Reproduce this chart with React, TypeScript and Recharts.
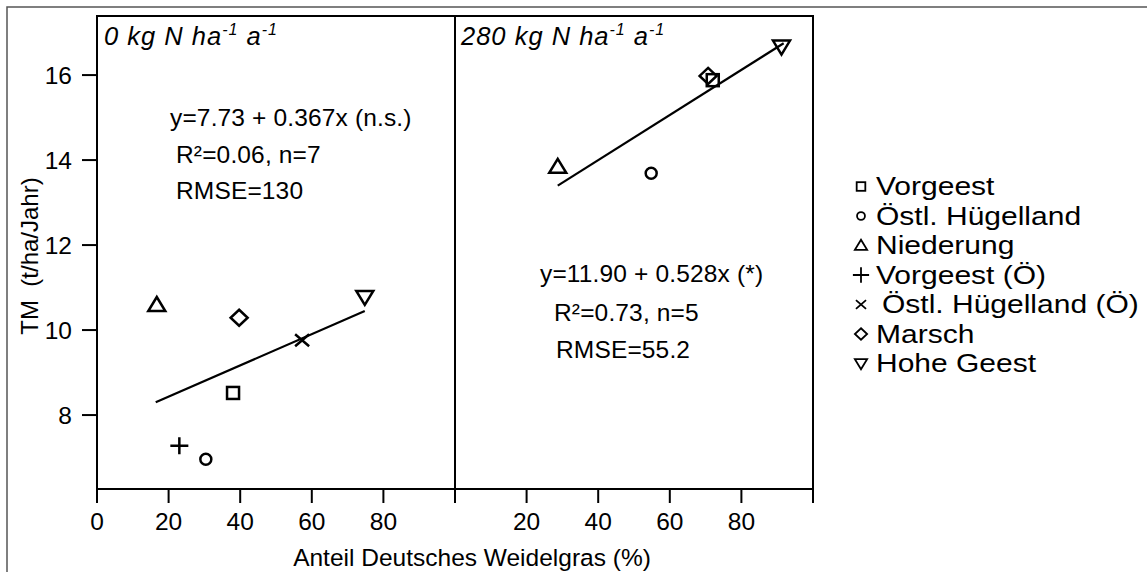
import React from 'react';
import { ScatterChart, Scatter, XAxis, YAxis, ReferenceArea } from 'recharts';

const font = "'Liberation Sans', Arial, sans-serif";

// Regionen und Symbole (gleiche Reihenfolge wie in der Legende)
const regions = ['Vorgeest', 'Östl. Hügelland', 'Niederung', 'Vorgeest (Ö)', 'Östl. Hügelland (Ö)', 'Marsch', 'Hohe Geest'];
const markers = ['square', 'circle', 'triangle', 'plus', 'cross', 'diamond', 'triangleDown'];

// 0 kg N ha-1 a-1
const grass0 = [38.0, 30.4, 16.7, 23.0, 57.3, 39.7, 74.8];
const yield0 = [8.52, 6.96, 10.59, 7.28, 9.76, 10.29, 10.78];
// 280 kg N ha-1 a-1 (keine Ö-Standorte)
const grass280 = [72.0, 54.8, 28.7, null, null, 70.7, 91.2];
const yield280 = [15.88, 13.69, 13.84, null, null, 15.98, 16.67];

const fit0 = [{ x: 16.4, y: 8.30 }, { x: 74.8, y: 10.45 }];
const fit280 = [{ x: 28.7, y: 13.40 }, { x: 91.8, y: 16.75 }];

const xTicks = [0, 20, 40, 60, 80, 100];
const yTicks = [8, 10, 12, 14, 16];
const yDomain: [number, number] = [6.26, 17.39];

const Marker = ({ cx, cy, kind, s = 1, sw = 2.5 }: any) => {
    const p = { fill: 'none', stroke: '#000', strokeWidth: sw };
    switch (kind) {
        case 'square':
            return <rect x={cx - 6 * s} y={cy - 6 * s} width={12 * s} height={12 * s} {...p} />;
        case 'circle':
            return <circle cx={cx} cy={cy} r={5.5 * s} {...p} />;
        case 'triangle':
            return <path d={`M${cx},${cy - 8 * s}L${cx + 8.5 * s},${cy + 6 * s}L${cx - 8.5 * s},${cy + 6 * s}Z`} {...p} />;
        case 'plus':
            return <path d={`M${cx - 9 * s},${cy}H${cx + 9 * s}M${cx},${cy - 8.5 * s}V${cy + 8.5 * s}`} {...p} />;
        case 'cross':
            return <path d={`M${cx - 7 * s},${cy - 6 * s}L${cx + 7 * s},${cy + 6 * s}M${cx + 7 * s},${cy - 6 * s}L${cx - 7 * s},${cy + 6 * s}`} {...p} />;
        case 'diamond':
            return <path d={`M${cx},${cy - 8 * s}L${cx + 8.5 * s},${cy}L${cx},${cy + 8 * s}L${cx - 8.5 * s},${cy}Z`} {...p} />;
        case 'triangleDown':
            return <path d={`M${cx - 8.5 * s},${cy - 6 * s}L${cx + 8.5 * s},${cy - 6 * s}L${cx},${cy + 8 * s}Z`} {...p} />;
        default:
            return <g />;
    }
};

const axisStroke = { stroke: '#000', strokeWidth: 2 };
const tickStyle = { fill: '#000', fontSize: 24.5, fontFamily: font };

const Panel = ({ xs, ys, fit, showY, hideLabels, width, margin }: any) => (
    <ScatterChart width={width} height={572} margin={margin}>
        <XAxis
            dataKey="x" type="number" domain={[0, 100]} ticks={xTicks} height={83}
            tickSize={14} tickMargin={10} axisLine={axisStroke} tickLine={axisStroke} tick={tickStyle}
            tickFormatter={(v: number) => (hideLabels.includes(v) ? '' : String(v))}
            allowDataOverflow
        />
        <YAxis
            dataKey="y" type="number" domain={yDomain} ticks={yTicks} width={97} hide={!showY}
            tickSize={15} tickMargin={10} axisLine={axisStroke} tickLine={axisStroke} tick={tickStyle}
            allowDataOverflow
        />
        <ReferenceArea x1={0} x2={100} y1={yDomain[0]} y2={yDomain[1]} fill="none" stroke="#000" strokeWidth={2} />
        <Scatter data={fit} line={{ stroke: '#000', strokeWidth: 2.2 }} shape={() => <g />} isAnimationActive={false} />
        {regions.map((name, i) => xs[i] == null ? null : (
            <Scatter
                key={name}
                name={name}
                data={[{ x: xs[i], y: ys[i] }]}
                shape={(pr: any) => <Marker cx={pr.cx} cy={pr.cy} kind={markers[i]} />}
                isAnimationActive={false}
            />
        ))}
    </ScatterChart>
);

const Sup = ({ children }: any) => <tspan dy={-10} fontSize={16}>{children}</tspan>;

export default function App() {
    const txt = { fontFamily: font, fill: '#000' };
    const note = { ...txt, fontSize: 24.5, letterSpacing: 0.15 };
    return (
        <div style={{ position: 'absolute', left: 0, top: 0, width: 1147, height: 572, background: '#fff', fontFamily: font }}>
            <div style={{ position: 'absolute', left: 0, top: 0 }}>
                <Panel xs={grass0} ys={yield0} fit={fit0} showY hideLabels={[100]} width={460}
                    margin={{ top: 16, right: 5, bottom: 0, left: 0 }} />
            </div>
            <div style={{ position: 'absolute', left: 450, top: 0 }}>
                <Panel xs={grass280} ys={yield280} fit={fit280} showY={false} hideLabels={[0, 100]} width={370}
                    margin={{ top: 16, right: 7, bottom: 0, left: 5 }} />
            </div>
            <svg width={1147} height={572} style={{ position: 'absolute', left: 0, top: 0, pointerEvents: 'none' }}>
                <path d="M7,572V7H1147" fill="none" stroke="#555" strokeWidth={1.5} />

                <text x={104} y={45} fontSize={25.5} fontStyle="italic" letterSpacing={1} {...txt}>
                    0 kg N ha<Sup>-1</Sup><tspan dy={10}> a</tspan><Sup>-1</Sup>
                </text>
                <text x={461} y={45} fontSize={25.5} fontStyle="italic" letterSpacing={1} {...txt}>
                    280 kg N ha<Sup>-1</Sup><tspan dy={10}> a</tspan><Sup>-1</Sup>
                </text>

                <text x={170} y={126} {...note}>y=7.73 + 0.367x (n.s.)</text>
                <text x={176} y={163} {...note}>R²=0.06, n=7</text>
                <text x={176} y={199} {...note}>RMSE=130</text>

                <text x={540} y={282} {...note}>y=11.90 + 0.528x (*)</text>
                <text x={554} y={321} {...note}>R²=0.73, n=5</text>
                <text x={556} y={358} {...note}>RMSE=55.2</text>

                <text x={472} y={566} fontSize={24.5} textAnchor="middle" {...txt}>Anteil Deutsches Weidelgras (%)</text>
                <text transform="translate(38,256) rotate(-90)" fontSize={24} textAnchor="middle" {...txt}>{'TM\u00a0\u00a0(t/ha/Jahr)'}</text>

                {regions.map((name, i) => {
                    const cy = 186.5 + i * 29.5;
                    return (
                        <g key={name}>
                            <Marker cx={861} cy={cy} kind={markers[i]} s={markers[i] === 'plus' ? 0.9 : 0.72} sw={1.8} />
                            <text transform={`translate(${markers[i] === 'cross' ? 882 : 876},${cy + 8.5}) scale(1.2,1)`} fontSize={25} {...txt}>{name}</text>
                        </g>
                    );
                })}
            </svg>
        </div>
    );
}
